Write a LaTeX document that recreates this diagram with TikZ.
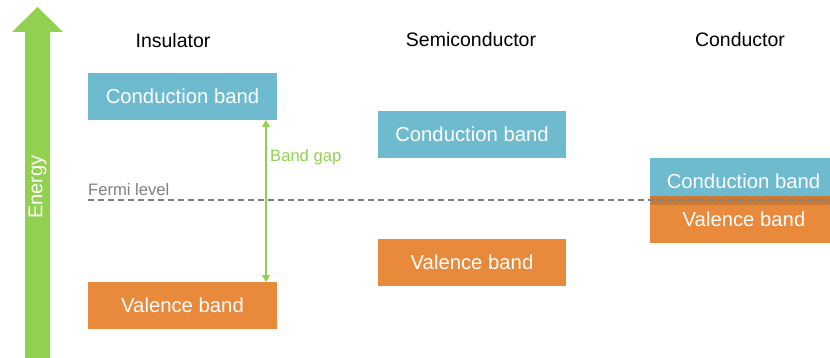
\documentclass[tikz,border=0pt]{standalone}
\usepackage{fontspec}
\setmainfont{Liberation Sans}
\usetikzlibrary{arrows.meta}
\definecolor{cband}{HTML}{6EBBD0}
\definecolor{vband}{HTML}{E8893C}
\definecolor{overlapc}{HTML}{C97A36}
\definecolor{egreen}{HTML}{92D050}
\definecolor{fermigray}{HTML}{808080}
\begin{document}
\begin{tikzpicture}[x=1pt,y=-1pt,
  bandbox/.style={inner sep=0pt,outer sep=0pt,text=white,font=\fontsize{20.3}{22}\selectfont,anchor=north west},
  cbox/.style={bandbox,fill=cband},
  vbox/.style={bandbox,fill=vband},
  boxtext/.style={text=white,font=\fontsize{20.3}{22}\selectfont,inner sep=0pt},
  title/.style={font=\fontsize{19.5}{22}\selectfont,text=black},
  small/.style={font=\fontsize{16.6}{18}\selectfont,inner sep=0pt}]
\useasboundingbox (0,0) rectangle (830,358);
% Energy arrow
\fill[egreen] (25,358) -- (25,32) -- (12,32) -- (37.5,7) -- (63,32) -- (50,32) -- (50,358) -- cycle;
\node[rotate=90,text=white,font=\fontsize{20}{22}\selectfont,inner sep=0pt] (energy) at (37.5,187) {Energy};
% titles
\node[title] (tins) at (173,41) {Insulator};
\node[title] (tsemi) at (471,40) {Semiconductor};
\node[title] (tcond) at (740,40) {Conductor};
% fermi level
\coordinate (fl) at (88,200);
\coordinate (fr) at (830,200);
% insulator
\node[cbox,minimum width=189pt,minimum height=47pt] (icb) at (88,73) {Conduction band};
\node[vbox,minimum width=189pt,minimum height=47pt] (ivb) at (88,282) {Valence band};
% semiconductor
\node[cbox,minimum width=188pt,minimum height=47pt] (scb) at (378,111) {Conduction band};
\node[vbox,minimum width=188pt,minimum height=47pt] (svb) at (378,239) {Valence band};
% conductor
\node[cbox,minimum width=180pt,minimum height=47pt] (ccb) at (650,158) {};
\node[vbox,minimum width=180pt,minimum height=47pt] (cvb) at (650,196) {};
\fill[overlapc] (650,196) rectangle (830,205);
\node[boxtext] (ccbt) at (743.5,181.5) {Conduction band};
\node[boxtext] (cvbt) at (744,219.5) {Valence band};
% fermi dashed
\draw[fermigray,line width=1.2pt,dash pattern=on 6pt off 4pt] (fl) -- (fr);
\node[small,text=fermigray,anchor=south west] (fermi) at (88,196) {Fermi level};
% band gap
\draw[egreen,line width=1.4pt,{Triangle[length=7pt,width=8pt]}-{Triangle[length=7pt,width=8pt]}] (icb.south east -| 266,0) -- (ivb.north east -| 266,0);
\node[small,text=egreen,anchor=west] (gap) at (270,157) {Band gap};
\end{tikzpicture}
\end{document}
